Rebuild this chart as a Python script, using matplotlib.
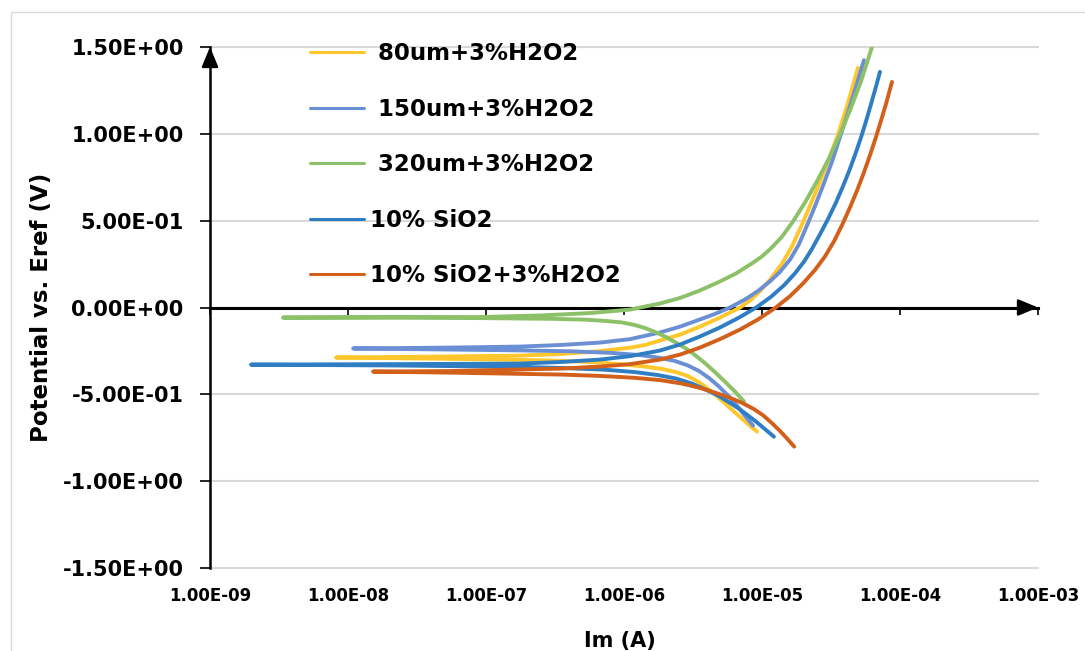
import matplotlib.pyplot as plt
from matplotlib.patches import Rectangle
from matplotlib.ticker import FixedLocator, NullLocator, FuncFormatter

labels = [' 80um+3%H2O2', ' 150um+3%H2O2', ' 320um+3%H2O2', '10% SiO2', '10% SiO2+3%H2O2']
colors = ['#FFC72C', '#6B8FD4', '#8CC168', '#2F7DC3', '#D2601A']

# |Im| (A) and potential vs Eref (V); each scan runs from the cathodic end,
# through the corrosion potential, up to the anodic end
im_80 = [9.20e-6, 7.92e-6, 6.70e-6, 5.67e-6, 4.80e-6, 4.06e-6, 3.44e-6, 2.91e-6, 2.38e-6,
         1.89e-6, 1.42e-6, 9.35e-7, 5.67e-7, 2.91e-7, 1.26e-7, 3.93e-8, 8.19e-9,
         5.48e-8, 1.76e-7, 3.44e-7, 6.70e-7, 1.11e-6, 1.42e-6, 1.82e-6, 2.55e-6, 3.55e-6,
         4.96e-6, 6.93e-6, 8.19e-6, 9.67e-6, 1.14e-5, 1.40e-5, 1.65e-5, 1.98e-5, 2.42e-5,
         2.96e-5, 3.55e-5, 4.20e-5, 4.96e-5]
e_80 = [-0.715, -0.671, -0.620, -0.568, -0.516, -0.467, -0.427, -0.395, -0.372,
        -0.354, -0.340, -0.326, -0.314, -0.305, -0.300, -0.294, -0.288,
        -0.282, -0.277, -0.268, -0.251, -0.231, -0.216, -0.190, -0.156, -0.110,
        -0.058, 0.0, 0.040, 0.094, 0.159, 0.254, 0.352, 0.490, 0.654,
        0.827, 0.994, 1.178, 1.381]

im_150 = [8.61e-6, 7.66e-6, 6.70e-6, 5.77e-6, 4.88e-6, 4.13e-6, 3.50e-6, 2.91e-6, 2.34e-6,
          1.82e-6, 1.31e-6, 7.92e-7, 4.06e-7, 1.76e-7, 5.48e-8, 1.09e-8,
          5.48e-8, 1.76e-7, 3.44e-7, 6.70e-7, 1.11e-6, 1.82e-6, 2.55e-6, 3.55e-6, 4.56e-6,
          5.86e-6, 7.53e-6, 9.35e-6, 1.14e-5, 1.35e-5, 1.60e-5, 1.85e-5, 2.15e-5, 2.46e-5,
          2.81e-5, 3.22e-5, 3.67e-5, 4.20e-5, 4.80e-5, 5.48e-5]
e_150 = [-0.680, -0.631, -0.573, -0.513, -0.455, -0.406, -0.366, -0.334, -0.308,
         -0.290, -0.274, -0.261, -0.252, -0.247, -0.242, -0.236,
         -0.231, -0.225, -0.216, -0.202, -0.182, -0.144, -0.110, -0.069, -0.037,
         0.0, 0.046, 0.095, 0.150, 0.205, 0.277, 0.363, 0.484, 0.597,
         0.715, 0.841, 0.980, 1.124, 1.271, 1.424]

im_320 = [7.41e-6, 6.37e-6, 5.39e-6, 4.56e-6, 3.86e-6, 3.27e-6, 2.77e-6, 2.34e-6, 1.98e-6,
          1.68e-6, 1.42e-6, 1.20e-6, 9.67e-7, 7.29e-7, 5.22e-7, 2.91e-7, 9.05e-8, 2.38e-8,
          3.38e-9,
          2.38e-8, 9.05e-8, 2.46e-7, 5.67e-7, 1.11e-6, 1.31e-6, 1.82e-6, 2.55e-6, 3.55e-6,
          4.96e-6, 6.48e-6, 8.46e-6, 1.00e-5, 1.18e-5, 1.40e-5, 1.68e-5, 2.05e-5, 2.50e-5,
          3.06e-5, 3.67e-5, 4.34e-5, 5.22e-5, 6.27e-5]
e_320 = [-0.542, -0.484, -0.427, -0.372, -0.320, -0.274, -0.233, -0.199, -0.167,
         -0.141, -0.118, -0.101, -0.086, -0.077, -0.070, -0.065, -0.061, -0.059,
         -0.058,
         -0.055, -0.055, -0.046, -0.032, -0.012, 0.0, 0.023, 0.055, 0.098,
         0.150, 0.196, 0.254, 0.294, 0.346, 0.409, 0.496, 0.605, 0.726,
         0.859, 0.997, 1.135, 1.303, 1.50]

im_sio2 = [1.22e-5, 1.05e-5, 9.05e-6, 7.78e-6, 6.70e-6, 5.67e-6, 4.80e-6, 3.93e-6, 3.11e-6,
           2.38e-6, 1.76e-6, 1.20e-6, 7.29e-7, 3.74e-7, 1.76e-7, 2.38e-8, 1.98e-9,
           2.38e-8, 1.76e-7, 3.44e-7, 6.70e-7, 1.11e-6, 1.82e-6, 2.55e-6, 3.55e-6, 4.96e-6,
           6.93e-6, 9.20e-6, 1.16e-5, 1.44e-5, 1.73e-5, 2.02e-5, 2.30e-5, 2.63e-5, 3.01e-5,
           3.44e-5, 3.86e-5, 4.27e-5, 4.72e-5, 5.22e-5, 5.67e-5, 6.16e-5, 6.70e-5, 7.16e-5]
e_sio2 = [-0.744, -0.700, -0.657, -0.617, -0.579, -0.542, -0.507, -0.473, -0.438,
          -0.409, -0.389, -0.372, -0.358, -0.349, -0.342, -0.334, -0.329,
          -0.326, -0.323, -0.314, -0.300, -0.280, -0.248, -0.213, -0.167, -0.115,
          -0.055, 0.003, 0.061, 0.127, 0.196, 0.265, 0.337, 0.421, 0.510,
          0.605, 0.698, 0.784, 0.878, 0.980, 1.072, 1.170, 1.272, 1.357]

im_sio2_h2o2 = [1.71e-5, 1.52e-5, 1.35e-5, 1.18e-5, 1.02e-5, 8.61e-6, 7.16e-6, 5.86e-6,
                4.64e-6, 3.55e-6, 2.63e-6, 1.82e-6, 1.20e-6, 6.70e-7, 3.44e-7, 1.76e-7,
                5.48e-8, 1.52e-8,
                5.48e-8, 1.76e-7, 3.44e-7, 6.70e-7, 1.11e-6, 1.82e-6, 2.55e-6, 3.55e-6,
                4.96e-6, 6.93e-6, 9.35e-6, 1.26e-5, 1.60e-5, 1.98e-5, 2.42e-5, 2.86e-5,
                3.33e-5, 3.80e-5, 4.34e-5, 4.88e-5, 5.48e-5, 6.06e-5, 6.70e-5, 7.28e-5,
                7.92e-5, 8.32e-5, 8.75e-5]
e_sio2_h2o2 = [-0.801, -0.755, -0.711, -0.666, -0.621, -0.582, -0.549, -0.520,
               -0.492, -0.463, -0.438, -0.418, -0.405, -0.394, -0.386, -0.382,
               -0.375, -0.369,
               -0.366, -0.357, -0.352, -0.340, -0.326, -0.300, -0.271, -0.231,
               -0.182, -0.127, -0.069, 0.0, 0.066, 0.138, 0.216, 0.294,
               0.382, 0.474, 0.576, 0.673, 0.778, 0.877, 0.982, 1.075,
               1.173, 1.235, 1.299]

x_ticks = [1e-9, 1e-8, 1e-7, 1e-6, 1e-5, 1e-4, 1e-3]
y_ticks = [-1.5, -1.0, -0.5, 0.0, 0.5, 1.0, 1.5]

plt.rcParams['font.family'] = 'DejaVu Sans'
plt.rcParams['font.weight'] = 'bold'
plt.rcParams['axes.labelweight'] = 'bold'

fig = plt.figure(figsize=(10.85, 6.51), dpi=100)
ax = fig.add_axes([210 / 1085, 83 / 651, 828 / 1085, 521 / 651])

series = [(im_80, e_80), (im_150, e_150), (im_320, e_320),
          (im_sio2, e_sio2), (im_sio2_h2o2, e_sio2_h2o2)]
for (im, e), lab, c in zip(series, labels, colors):
    ax.plot(im, e, color=c, lw=2.8, label=lab, solid_capstyle='round',
            solid_joinstyle='round', zorder=3)

ax.set_xscale('log')
ax.set_xlim(1e-9, 1e-3)
ax.set_ylim(-1.5, 1.5)

for s in ['top', 'right', 'bottom']:
    ax.spines[s].set_visible(False)
ax.spines['left'].set_linewidth(1.8)

sci = FuncFormatter(lambda v, pos: f'{v:.2E}')
ax.xaxis.set_major_locator(FixedLocator(x_ticks))
ax.xaxis.set_minor_locator(NullLocator())
ax.xaxis.set_major_formatter(sci)
ax.tick_params(axis='x', length=0, pad=14, labelsize=12)

ax.yaxis.set_major_locator(FixedLocator(y_ticks))
ax.yaxis.set_major_formatter(sci)
ax.tick_params(axis='y', direction='out', length=7, width=1.2, pad=12, labelsize=15)
ax.grid(axis='y', color='#D9D9D9', lw=1.5, clip_on=False)
ax.set_axisbelow(True)

# current axis drawn through E = 0 V, with decade ticks hanging below it
zero_axis = ax.secondary_xaxis(0.4999)
zero_axis.xaxis.set_major_locator(FixedLocator(x_ticks))
zero_axis.xaxis.set_minor_locator(NullLocator())
zero_axis.tick_params(axis='x', direction='out', length=5, width=1.2, labelbottom=False)
zero_axis.spines['bottom'].set_linewidth(2.2)
zero_axis.set_zorder(1)

arrow = dict(arrowstyle='-|>,head_length=0.6,head_width=0.25', color='black', lw=1.8,
             mutation_scale=20, shrinkA=0, shrinkB=0)
ax.annotate('', xy=(0, 1), xytext=(0, 0.985), xycoords='axes fraction',
            arrowprops=arrow, annotation_clip=False)
ax.annotate('', xy=(1, 0.5), xytext=(0.99, 0.5), xycoords='axes fraction',
            arrowprops=arrow, annotation_clip=False)

ax.set_ylabel('Potential vs. Eref (V)', fontsize=16.5)
ax.yaxis.set_label_coords(-0.19, 0.5)
ax.set_xlabel('Im (A)', fontsize=15)
ax.xaxis.set_label_coords(0.495, -0.12)

leg = fig.legend(loc='upper left', bbox_to_anchor=(310 / 1085, 1 - 42 / 651),
                 frameon=False, fontsize=16.5, borderpad=0, borderaxespad=0,
                 handlelength=2.35, handletextpad=0.26, labelspacing=1.42)
for line in leg.get_lines():
    line.set_linewidth(2.2)

fig.add_artist(Rectangle((11 / 1085, -0.05), 1.1, 1 - 12 / 651 + 0.05,
                         transform=fig.transFigure, fill=False,
                         edgecolor='#D9D9D9', lw=1))

fig.savefig('out.png', dpi=100)
